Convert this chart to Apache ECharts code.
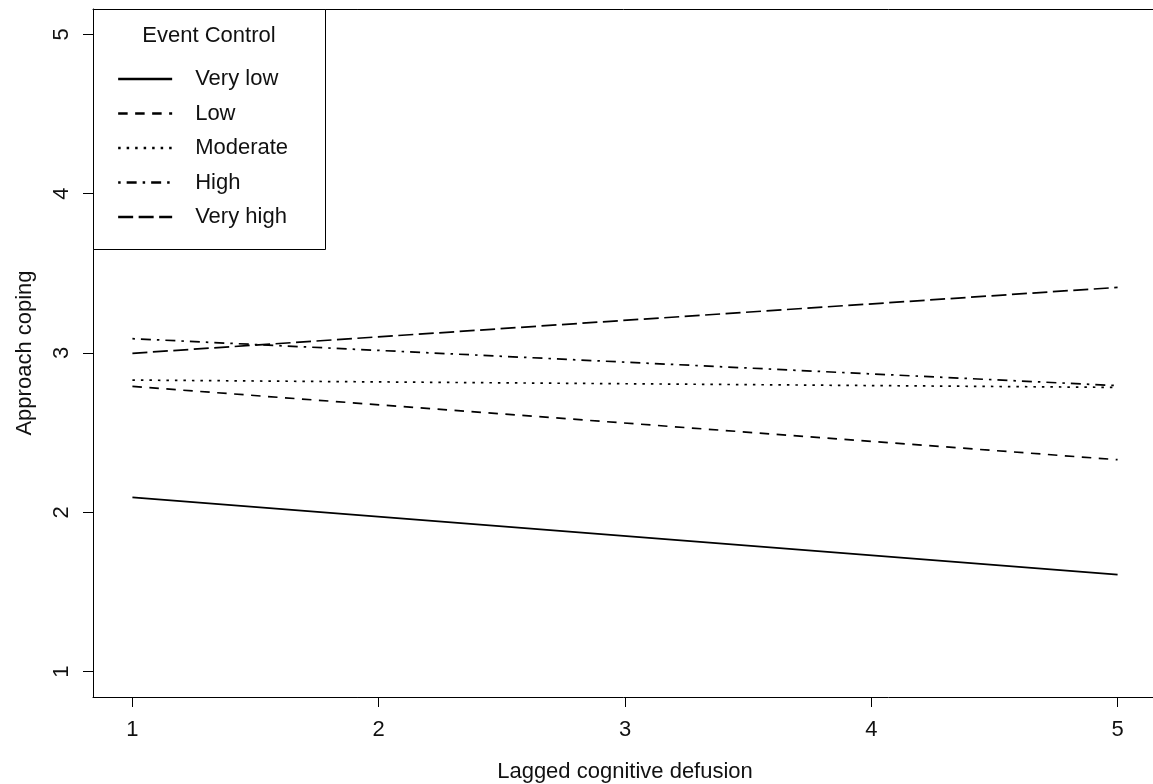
<!DOCTYPE html>
<html>
<head>
<meta charset="utf-8">
<script src="https://cdn.jsdelivr.net/npm/echarts@6/dist/echarts.min.js"></script>
<style>html,body{margin:0;padding:0;background:#fff}#c{width:1153px;height:784px}</style>
</head>
<body>
<div id="c"></div>
<script>
// ---- data ----
var xValues = [1, 5];
var seriesNames = ['Very low', 'Low', 'Moderate', 'High', 'Very high'];
var veryLow = [2.094, 1.608];
var low = [2.79, 2.33];
var moderate = [2.83, 2.784];
var high = [3.09, 2.795];
var veryHigh = [2.998, 3.412];
var xTicks = [1, 2, 3, 4, 5];
var yTicks = [1, 2, 3, 4, 5];
var legendTitle = 'Event Control';
var xTitle = 'Lagged cognitive defusion';
var yTitle = 'Approach coping';

var FONT = '"Liberation Sans", Arial, sans-serif';
var dashes = [
  'solid',
  [9.5, 7.5],
  [2.5, 6],
  [2.5, 6, 10, 6],
  [15, 5.5]
];
var allValues = [veryLow, low, moderate, high, veryHigh];

function pairs(vals) {
  return xValues.map(function (x, i) { return [x, vals[i]]; });
}

var series = seriesNames.map(function (name, i) {
  return {
    name: name,
    type: 'line',
    data: pairs(allValues[i]),
    symbol: 'none',
    showSymbol: false,
    silent: true,
    lineStyle: { color: '#000', width: 1.7, type: dashes[i] },
    itemStyle: { color: '#000' }
  };
});

var axisText = { fontSize: 22, fontFamily: FONT, color: '#111' };

var chart = echarts.init(document.getElementById('c'), null, { renderer: 'canvas' });
chart.setOption({
  animation: false,
  backgroundColor: '#fff',
  grid: {
    left: 93, top: 9, width: 1064, height: 688,
    show: false, containLabel: false, outerBoundsMode: 'none'
  },
  xAxis: [{
    type: 'value', min: 0.84, max: 5.16,
    name: xTitle, nameLocation: 'middle', nameGap: 64,
    nameTextStyle: axisText,
    axisLine: { show: true, onZero: false, lineStyle: { color: '#000', width: 1 } },
    axisTick: { show: true, inside: false, length: 10, customValues: xTicks, lineStyle: { color: '#000' } },
    axisLabel: Object.assign({ customValues: xTicks, margin: 22 }, axisText),
    splitLine: { show: false }
  }, {
    type: 'value', min: 0.84, max: 5.16, position: 'top',
    axisLine: { show: true, onZero: false, lineStyle: { color: '#000', width: 1 } },
    axisTick: { show: false }, axisLabel: { show: false }, splitLine: { show: false }
  }],
  yAxis: {
    type: 'value', min: 0.84, max: 5.16,
    name: yTitle, nameLocation: 'middle', nameGap: 57, nameRotate: 90,
    nameTextStyle: axisText,
    axisLine: { show: true, onZero: false, lineStyle: { color: '#000', width: 1 } },
    axisTick: { show: true, inside: false, length: 10, customValues: yTicks, lineStyle: { color: '#000' } },
    axisLabel: Object.assign({ customValues: yTicks, rotate: 90, margin: 20 }, axisText),
    splitLine: { show: false }
  },
  legend: {
    orient: 'vertical', left: 112, top: 63,
    itemWidth: 54, itemHeight: 20, itemGap: 12.5,
    itemStyle: { opacity: 0, borderWidth: 0 },
    lineStyle: { width: 2.3 },
    textStyle: { fontSize: 22, fontFamily: FONT, color: '#111', padding: [0, 0, 0, 18] },
    data: seriesNames,
    z: 20
  },
  graphic: [
    {
      type: 'rect', z: 10,
      shape: { x: 93.5, y: 9.5, width: 232, height: 240 },
      style: { fill: '#fff', stroke: '#000', lineWidth: 1 }
    },
    {
      type: 'text', z: 11,
      x: 209, y: 36,
      style: { text: legendTitle, fontSize: 22, fontFamily: FONT, fill: '#111', textAlign: 'center', textVerticalAlign: 'middle' }
    }
  ],
  series: series
});
</script>
</body>
</html>
